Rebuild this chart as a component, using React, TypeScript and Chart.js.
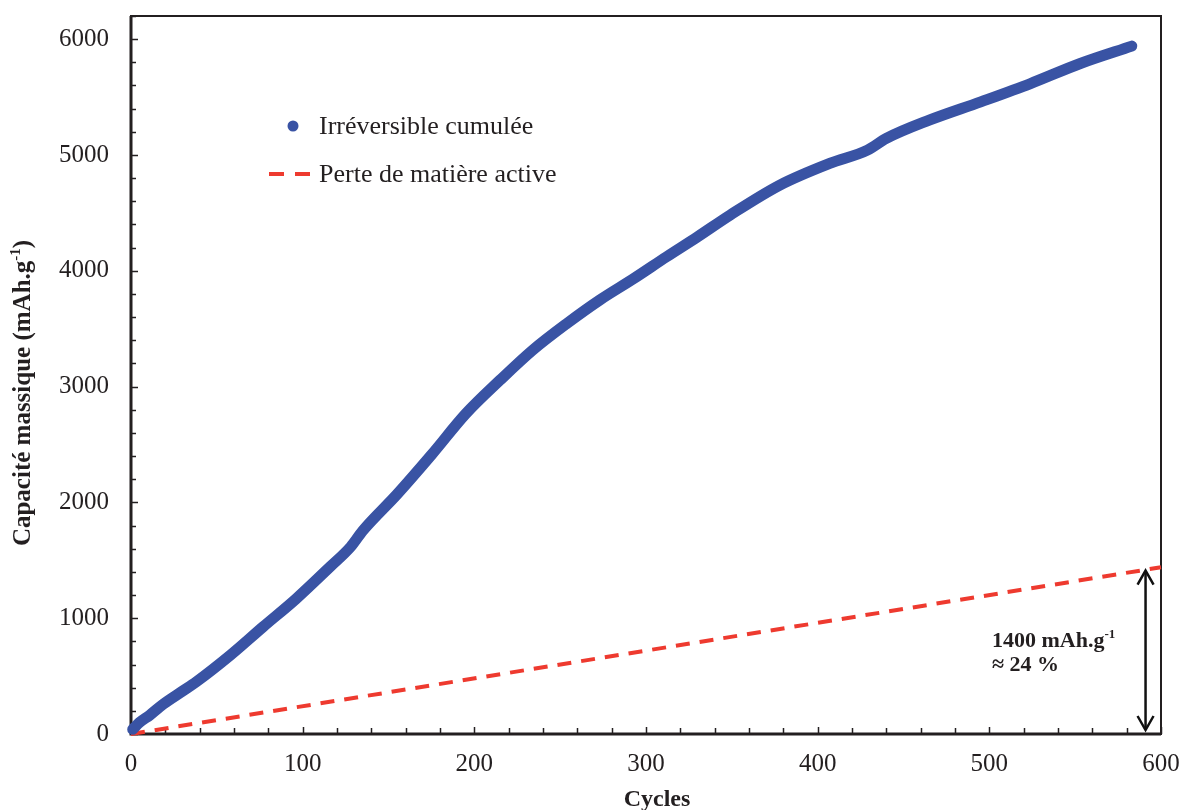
import React, { useEffect, useRef } from "react";
import { Chart, registerables } from "chart.js";

Chart.register(...registerables);

// ---- Data ----
const cycles = [1, 5, 11, 19, 30, 38, 58, 77, 96, 116, 128, 135, 155, 175, 195, 215, 234, 254, 273, 293, 312, 330, 349, 378, 407, 429, 440, 465, 495, 524, 553, 583];
const capacity = [40, 100, 164, 260, 370, 450, 682, 926, 1165, 1444, 1617, 1755, 2070, 2410, 2765, 3056, 3315, 3546, 3747, 3934, 4121, 4293, 4481, 4740, 4927, 5042, 5143, 5301, 5459, 5617, 5790, 5940];

const lossCycles = [0, 600];
const lossCapacity = [0, 1440];

const xTickValues = [0, 100, 200, 300, 400, 500, 600];
const yTickValues = [0, 1000, 2000, 3000, 4000, 5000, 6000];

const seriesLabels = ["Irréversible cumulée", "Perte de matière active"];
const xTitle = "Cycles";
const yTitleMain = "Capacité massique (mAh.g";
const yTitleSup = "-1";
const yTitleEnd = ")";
const annotLine1 = "1400 mAh.g";
const annotSup = "-1";
const annotLine2 = "≈ 24 %";
const annotCycle = 591;
const annotTop = 1420;

const BLUE = "#3953A4";
const RED = "#EE3A2F";
const INK = "#231F20";
const SERIF = "'Liberation Serif', 'DejaVu Serif', serif";

const overlay = {
  id: "overlay",
  beforeDatasetsDraw(chart: any) {
    const { ctx, chartArea: a, scales } = chart;
    const x = scales.x, y = scales.y;
    ctx.save();
    ctx.strokeStyle = INK;
    ctx.lineWidth = 1.5;
    for (let v = 0; v <= 6200; v += 200) {
      const py = Math.round(y.getPixelForValue(v)) + 0.5;
      const len = v % 1000 === 0 ? 7 : 5;
      ctx.beginPath();
      ctx.moveTo(a.left, py);
      ctx.lineTo(a.left + len, py);
      ctx.stroke();
    }
    for (let v = 0; v <= 600; v += 20) {
      const px = Math.round(x.getPixelForValue(v)) + 0.5;
      const len = v % 100 === 0 ? 7 : 6;
      ctx.beginPath();
      ctx.moveTo(px, a.bottom);
      ctx.lineTo(px, a.bottom - len);
      ctx.stroke();
    }
    ctx.lineWidth = 2;
    ctx.strokeRect(a.left, a.top, a.right - a.left, a.bottom - a.top);
    ctx.lineWidth = 3;
    ctx.beginPath();
    ctx.moveTo(a.left, a.top);
    ctx.lineTo(a.left, a.bottom);
    ctx.lineTo(a.right, a.bottom);
    ctx.stroke();
    ctx.restore();
  },
  afterDraw(chart: any) {
    const { ctx, scales } = chart;
    const x = scales.x, y = scales.y;
    ctx.save();
    ctx.fillStyle = INK;
    ctx.strokeStyle = INK;

    // x title
    ctx.font = `bold 24px ${SERIF}`;
    ctx.textAlign = "center";
    ctx.textBaseline = "alphabetic";
    ctx.fillText(xTitle, 657, 806);

    // y title (rotated, with superscript)
    ctx.save();
    ctx.translate(30, 393);
    ctx.rotate(-Math.PI / 2);
    const mainFont = `bold 25px ${SERIF}`;
    const supFont = `bold 15px ${SERIF}`;
    ctx.font = mainFont;
    const w1 = ctx.measureText(yTitleMain).width;
    const w3 = ctx.measureText(yTitleEnd).width;
    ctx.font = supFont;
    const w2 = ctx.measureText(yTitleSup).width;
    let sx = -(w1 + w2 + w3) / 2;
    ctx.textAlign = "left";
    ctx.font = mainFont;
    ctx.fillText(yTitleMain, sx, 0);
    sx += w1;
    ctx.font = supFont;
    ctx.fillText(yTitleSup, sx, -10);
    sx += w2;
    ctx.font = mainFont;
    ctx.fillText(yTitleEnd, sx, 0);
    ctx.restore();

    // legend
    ctx.font = `26px ${SERIF}`;
    ctx.textAlign = "left";
    ctx.textBaseline = "middle";
    ctx.fillStyle = BLUE;
    ctx.beginPath();
    ctx.arc(293, 126, 5.5, 0, Math.PI * 2);
    ctx.fill();
    ctx.fillStyle = INK;
    ctx.fillText(seriesLabels[0], 319, 127);
    ctx.strokeStyle = RED;
    ctx.lineWidth = 4;
    ctx.beginPath();
    ctx.moveTo(269, 174);
    ctx.lineTo(284, 174);
    ctx.moveTo(295, 174);
    ctx.lineTo(310, 174);
    ctx.stroke();
    ctx.fillStyle = INK;
    ctx.fillText(seriesLabels[1], 319, 175);

    // double arrow
    const ax = x.getPixelForValue(annotCycle);
    const atop = y.getPixelForValue(annotTop);
    const abot = y.getPixelForValue(0) - 3;
    ctx.strokeStyle = "#111";
    ctx.lineWidth = 2.5;
    ctx.beginPath();
    ctx.moveTo(ax, atop + 2);
    ctx.lineTo(ax, abot - 2);
    ctx.stroke();
    ctx.beginPath();
    ctx.moveTo(ax - 8, atop + 15);
    ctx.lineTo(ax, atop + 1);
    ctx.lineTo(ax + 8, atop + 15);
    ctx.moveTo(ax - 8, abot - 15);
    ctx.lineTo(ax, abot - 1);
    ctx.lineTo(ax + 8, abot - 15);
    ctx.stroke();

    // annotation text
    ctx.fillStyle = INK;
    ctx.textBaseline = "alphabetic";
    ctx.textAlign = "left";
    ctx.font = `bold 22px ${SERIF}`;
    ctx.fillText(annotLine1, 992, 647);
    const aw = ctx.measureText(annotLine1).width;
    ctx.font = `bold 13px ${SERIF}`;
    ctx.fillText(annotSup, 992 + aw, 638);
    ctx.font = `bold 22px ${SERIF}`;
    ctx.fillText(annotLine2, 992, 671);
    ctx.restore();
  },
};

export default function App() {
  const ref = useRef<HTMLCanvasElement>(null);
  useEffect(() => {
    if (!ref.current) return;
    const chart = new Chart(ref.current, {
      type: "line",
      data: {
        datasets: [
          {
            label: seriesLabels[0],
            data: cycles.map((c, i) => ({ x: c, y: capacity[i] })),
            borderColor: BLUE,
            backgroundColor: BLUE,
            borderWidth: 11,
            borderCapStyle: "round",
            borderJoinStyle: "round",
            pointRadius: 0,
            cubicInterpolationMode: "monotone",
            clip: false,
          },
          {
            label: seriesLabels[1],
            data: lossCycles.map((c, i) => ({ x: c, y: lossCapacity[i] })),
            borderColor: RED,
            borderWidth: 4,
            borderDash: [14, 10],
            pointRadius: 0,
            clip: false,
          },
        ],
      },
      options: {
        responsive: false,
        animation: false,
        layout: { padding: { top: 16, right: 23, left: 0, bottom: 0 } },
        plugins: { legend: { display: false }, tooltip: { enabled: false } },
        scales: {
          x: {
            type: "linear",
            min: 0,
            max: 600,
            grid: { display: false, drawTicks: false },
            border: { display: false },
            afterBuildTicks: (s: any) => {
              s.ticks = xTickValues.map((v) => ({ value: v }));
            },
            afterFit: (s: any) => {
              s.height = 76;
              s.paddingLeft = 0;
              s.paddingRight = 0;
            },
            ticks: {
              padding: 15,
              color: INK,
              font: { family: SERIF, size: 25 },
              maxRotation: 0,
              callback: (v: any) => String(v),
            },
          },
          y: {
            type: "linear",
            min: 0,
            max: 6200,
            grid: { display: false, drawTicks: false },
            border: { display: false },
            afterBuildTicks: (s: any) => {
              s.ticks = yTickValues.map((v) => ({ value: v }));
            },
            afterFit: (s: any) => {
              s.width = 131;
              s.paddingTop = 0;
              s.paddingBottom = 0;
            },
            ticks: {
              padding: 22,
              color: INK,
              font: { family: SERIF, size: 25 },
              callback: (v: any) => String(v),
            },
          },
        },
      },
      plugins: [overlay],
    });
    return () => chart.destroy();
  }, []);
  return (
    <div style={{ position: "absolute", left: 0, top: 0, width: 1184, height: 810, background: "#fff" }}>
      <canvas ref={ref} width={1184} height={810} />
    </div>
  );
}
